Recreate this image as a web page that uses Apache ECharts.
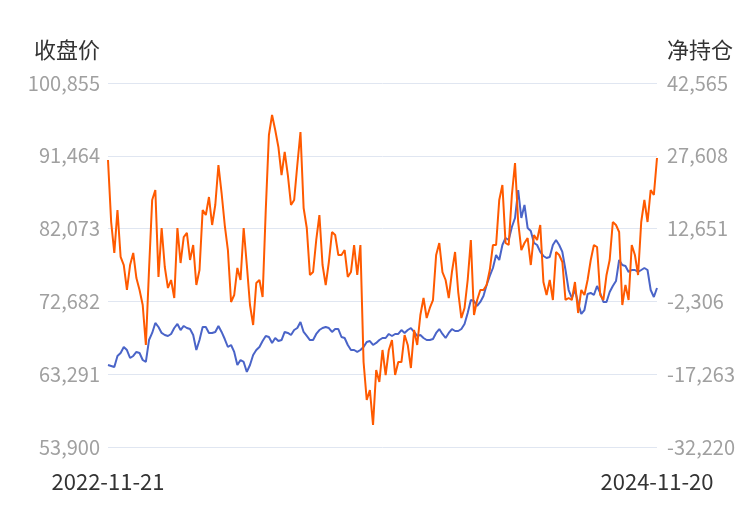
<!DOCTYPE html>
<html>
<head>
<meta charset="utf-8">
<script src="https://cdn.jsdelivr.net/npm/echarts@6/dist/echarts.min.js"></script>
<style>html,body{margin:0;padding:0;background:#fff}#c{width:750px;height:510px}</style>
</head>
<body>
<div id="c"></div>
<script>
// axis settings
var leftName = '收盘价';
var rightName = '净持仓';
var leftMin = 53900, leftMax = 100855, leftStep = 9391;
var rightMin = -32220, rightMax = 42565, rightStep = 14957;
var firstDate = '2022-11-21';
var lastDate = '2024-11-20';

// 收盘价 (left axis), sampled every 3rd trading day
var closePrice = [
64480,64350,64220,65640,66030,66800,66410,65380,65640,66160,
66030,65120,64870,67700,68610,69900,69380,68610,68350,68220,
68480,69250,69770,68990,69510,69250,69120,68350,66410,67700,
69380,69380,68610,68610,68740,69510,68740,67830,66800,67060,
66160,64480,65120,64870,63580,64480,65770,66410,66800,67570,
68220,68090,67320,67960,67570,67700,68740,68610,68350,68990,
69250,70030,68740,68220,67700,67700,68480,68990,69250,69380,
69250,68740,69120,69120,68090,67960,67060,66410,66410,66160,
66410,66800,67450,67570,67060,67320,67700,67960,67960,68480,
68220,68480,68480,68990,68610,68990,69250,68740,68220,68350,
67960,67700,67700,67830,68610,69120,68480,67960,68610,69120,
68860,68860,69120,69770,71190,72860,72730,72090,72610,73380,
74800,75960,76990,78670,78020,79960,80860,80600,82280,83440,
87050,83440,85120,82150,81760,80220,79960,79060,78540,78280,
78410,79960,80600,79960,79060,76730,74150,73120,74150,72480,
71060,71570,73640,73770,73510,74670,73770,72610,72610,73900,
74670,75310,78020,77380,77250,76480,76730,76730,76480,76730,
76990,76730,74150,73250,74410
];

// 净持仓 (right axis)
var netPosition = [
26740,14010,7640,16470,6820,5170,40,5170,7640,2500,
40,-3050,-11260,4140,18530,20580,2710,12770,4760,450,
2090,-1610,12770,5580,10920,11750,6200,9280,1060,4140,
16470,15440,19140,13390,17500,25720,19960,13390,8250,-2430,
-990,4560,2090,12770,5170,-3050,-7160,1470,2090,-1400,
16470,31880,35990,32910,29420,23660,28390,23660,17500,18530,
25720,32500,16880,12770,3120,3730,10310,15440,5170,1060,
5790,11950,11340,7230,7230,8250,2710,3730,9280,3120,
9280,-14760,-22560,-20510,-27700,-16400,-18870,-12290,-17430,-12290,
-10240,-17430,-14760,-14760,-9210,-11260,-15990,-8180,-11260,-5100,
-1610,-5720,-3660,-2020,7230,9690,3730,2090,-1610,3730,
7840,-380,-5720,-3660,2090,10310,-5100,-2020,40,40,
1060,4140,9280,9280,18530,21610,9690,9280,19550,26130,
14010,8250,9690,10720,5170,11340,10310,13390,1680,-990,
2090,-2020,7840,7230,5790,-2020,-1610,-2020,1680,-4690,
40,-990,2090,6200,9280,8870,-990,-2020,3120,6200,
14010,13390,11950,-3050,1060,-2020,9280,7230,3120,14010,
18530,14010,20580,19550,27160
];

// category dates: every 3rd weekday from firstDate
var dates = [];
(function(){
  var d = new Date(firstDate + 'T00:00:00Z');
  var k = 0;
  while (dates.length < closePrice.length) {
    var wd = d.getUTCDay();
    if (wd !== 0 && wd !== 6) {
      if (k % 3 === 0) dates.push(d.toISOString().slice(0,10));
      k++;
    }
    d = new Date(d.getTime() + 86400000);
  }
  dates[dates.length - 1] = lastDate;
})();

var font = '"Noto Sans CJK SC", "Noto Sans", sans-serif';
var chart = echarts.init(document.getElementById('c'), null, {renderer: 'canvas'});
chart.setOption({
  animation: false,
  grid: {left: 108, right: 93, top: 83, bottom: 63, containLabel: false},
  xAxis: {
    type: 'category',
    data: dates,
    boundaryGap: false,
    axisLine: {show: false},
    axisTick: {show: false},
    splitLine: {show: false},
    axisLabel: {
      interval: function (i) { return i === 0 || i === dates.length - 1; },
      color: '#333',
      fontSize: 22,
      fontFamily: font,
      margin: 24
    }
  },
  yAxis: [
    {
      type: 'value', position: 'left',
      min: leftMin, max: leftMax, interval: leftStep,
      name: leftName, nameLocation: 'end', nameGap: 22,
      nameTextStyle: {color: '#333', fontSize: 22, fontFamily: font, align: 'right', padding: [0, 8, 0, 0]},
      axisLine: {show: false}, axisTick: {show: false},
      axisLabel: {color: '#a0a0a0', fontSize: 20, fontFamily: font, margin: 8,
        formatter: function (v) { return Math.round(v).toLocaleString('en-US'); }},
      splitLine: {show: true, lineStyle: {color: '#e0e6f1', width: 1}}
    },
    {
      type: 'value', position: 'right',
      min: rightMin, max: rightMax, interval: rightStep,
      name: rightName, nameLocation: 'end', nameGap: 22,
      nameTextStyle: {color: '#333', fontSize: 22, fontFamily: font, align: 'left', padding: [0, 0, 0, 10]},
      axisLine: {show: false}, axisTick: {show: false},
      axisLabel: {color: '#a0a0a0', fontSize: 20, fontFamily: font, margin: 10,
        formatter: function (v) { return Math.round(v).toLocaleString('en-US'); }},
      splitLine: {show: false}
    }
  ],
  series: [
    {
      name: leftName, type: 'line', yAxisIndex: 0, data: closePrice,
      symbol: 'none', lineStyle: {color: '#4a64c8', width: 2}, itemStyle: {color: '#4a64c8'}
    },
    {
      name: rightName, type: 'line', yAxisIndex: 1, data: netPosition,
      symbol: 'none', lineStyle: {color: '#ff5a00', width: 2}, itemStyle: {color: '#ff5a00'}
    }
  ]
});
</script>
</body>
</html>
